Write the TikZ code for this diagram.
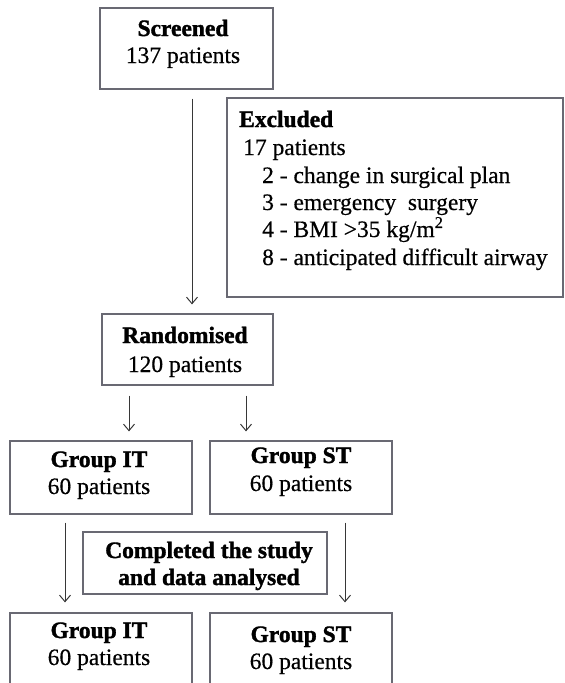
\documentclass[tikz,border=0pt]{standalone}
\usepackage{fontspec}
\setmainfont{Liberation Serif}[UprightFeatures={FakeBold=0.5}, BoldFeatures={FakeBold=1.5}]
\usetikzlibrary{arrows.meta}
\definecolor{boxline}{RGB}{105,105,115}
\definecolor{arrline}{RGB}{55,55,55}
\tikzset{
  x=1pt, y=1pt,
  flowbox/.style={draw=boxline, line width=1.2pt, fill=none, inner sep=0pt},
  txt/.style={anchor=base, inner sep=0pt, font=\fontsize{23.5}{28}\selectfont},
  txtl/.style={anchor=base west, inner sep=0pt, font=\fontsize{23.5}{28}\selectfont},
  arr/.style={draw=arrline, line width=1pt, -{Straight Barb[length=6.5pt,width=11pt]}},
}
\begin{document}
\begin{tikzpicture}
\clip (0,0) rectangle (565,-683);
\useasboundingbox (0,0) rectangle (565,-683);

% boxes
\node[flowbox, minimum width=173, minimum height=81] (scr) at (186.5,-48.5) {};
\node[flowbox, minimum width=336, minimum height=199] (exc) at (395,-197.5) {};
\node[flowbox, minimum width=171, minimum height=71] (ran) at (187.5,-349.5) {};
\node[flowbox, minimum width=182, minimum height=73] (git) at (101,-477.5) {};
\node[flowbox, minimum width=182, minimum height=73] (gst) at (301,-477.5) {};
\node[flowbox, minimum width=244, minimum height=62] (comp) at (205,-563) {};
\node[flowbox, minimum width=182, minimum height=100] (git2) at (101,-663) {};
\node[flowbox, minimum width=182, minimum height=100] (gst2) at (301,-663) {};

% texts
\node[txt] (scrA) at (183,-36) {\textbf{Screened}};
\node[txt] (scrB) at (183,-63) {137 patients};

\node[txtl] (excA) at (239,-127) {\textbf{Excluded}};
\node[txtl] (excB) at (243,-155) {17 patients};
\node[txtl] (excC) at (262,-183) {2 - change in surgical plan};
\node[txtl] (excD) at (262,-210) {3 - emergency\ \ surgery};
\node[txtl] (excE) at (262,-237) {4 - BMI >35 kg/m\textsuperscript{2}};
\node[txtl] (excF) at (262,-265) {8 - anticipated difficult airway};

\node[txt] (ranA) at (185,-343) {\textbf{Randomised}};
\node[txt] (ranB) at (185,-372) {120 patients};

\node[txt] (gitA) at (99,-467) {\textbf{Group IT}};
\node[txt] (gitB) at (99,-494) {60 patients};
\node[txt] (gstA) at (301,-463) {\textbf{Group ST}};
\node[txt] (gstB) at (301,-491) {60 patients};

\node[txt] (compA) at (209,-558) {\textbf{Completed the study}};
\node[txt] (compB) at (209,-585) {\textbf{and data analysed}};

\node[txt] (git2A) at (99,-638) {\textbf{Group IT}};
\node[txt] (git2B) at (99,-665) {60 patients};
\node[txt] (gst2A) at (301,-642) {\textbf{Group ST}};
\node[txt] (gst2B) at (301,-669) {60 patients};

% arrows
\draw[arr, shorten <=9pt, shorten >=9pt] ([xshift=5.5pt]scr.south) -- ([xshift=4.5pt]ran.north);
\draw[arr, shorten <=10pt, shorten >=9pt] ([xshift=-58.5pt]ran.south) -- ([xshift=28pt]git.north);
\draw[arr, shorten <=10pt, shorten >=9pt] ([xshift=58.5pt]ran.south) -- ([xshift=-55pt]gst.north);
\draw[arr, shorten <=8pt, shorten >=10pt] ([xshift=-36pt]git.south) -- ([xshift=-36pt]git2.north);
\draw[arr, shorten <=8pt, shorten >=10pt] ([xshift=44pt]gst.south) -- ([xshift=44pt]gst2.north);
\end{tikzpicture}
\end{document}
